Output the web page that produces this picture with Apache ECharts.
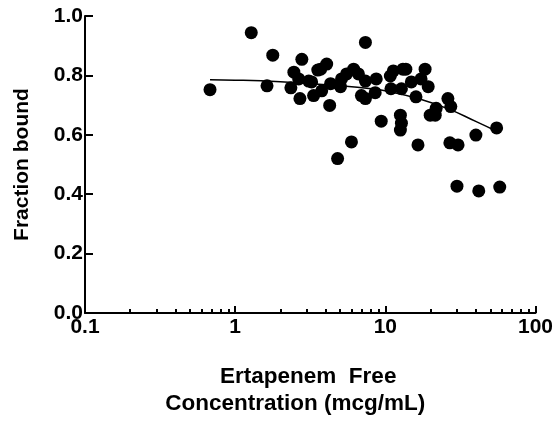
<!DOCTYPE html>
<html>
<head>
<meta charset="utf-8">
<script src="https://cdn.jsdelivr.net/npm/echarts@6/dist/echarts.min.js"></script>
<style>
  html, body { margin: 0; padding: 0; background: #fff; }
  #chart { width: 556px; height: 422px; }
</style>
</head>
<body>
<div id="chart"></div>
<script>
// free concentration (mcg/mL) and fraction bound
var concX = [0.68, 1.28, 1.78, 1.63, 2.78, 2.46, 2.35, 2.70, 3.33, 3.55,
             3.09, 2.65, 3.23, 3.71, 4.07, 3.77, 4.26, 4.32, 5.03, 5.11,
             5.52, 6.15, 6.62, 7.37, 7.37, 6.93, 7.37, 8.56, 8.70, 9.39,
             10.8, 11.3, 10.9, 12.6, 12.8, 12.6, 13.1, 13.7, 12.8, 14.9,
             16.0, 16.5, 18.4, 17.3, 19.3, 19.9, 21.5, 21.8, 26.1, 27.3,
             26.9, 30.5, 40.1, 55.1, 5.95, 4.81, 30.0, 41.9, 57.8];
var fracY = [0.752, 0.944, 0.868, 0.765, 0.854, 0.811, 0.758, 0.722, 0.732, 0.818,
             0.781, 0.788, 0.778, 0.821, 0.838, 0.748, 0.699, 0.772, 0.762, 0.788,
             0.805, 0.821, 0.805, 0.911, 0.781, 0.732, 0.722, 0.742, 0.788, 0.646,
             0.798, 0.815, 0.755, 0.666, 0.639, 0.616, 0.821, 0.821, 0.755, 0.778,
             0.728, 0.566, 0.821, 0.788, 0.762, 0.666, 0.666, 0.689, 0.722, 0.695,
             0.573, 0.566, 0.599, 0.623, 0.576, 0.520, 0.427, 0.411, 0.424];

// fitted curve
var fitX = [0.68, 1.0, 2.0, 3.0, 5.0, 7.5, 10.8, 16.5, 26, 40, 55];
var fitY = [0.785, 0.784, 0.779, 0.773, 0.765, 0.757, 0.745, 0.722, 0.688, 0.645, 0.612];

var xMinor = [0.2, 0.3, 0.4, 0.5, 0.6, 0.7, 0.8, 0.9,
              2, 3, 4, 5, 6, 7, 8, 9,
              20, 30, 40, 50, 60, 70, 80, 90];

var points = concX.map(function (x, i) { return [x, fracY[i]]; });
var curve = fitX.map(function (x, i) { return [x, fitY[i]]; });

var chart = echarts.init(document.getElementById('chart'));
var font = 'Liberation Sans, Arial, sans-serif';

var option = {
    backgroundColor: '#ffffff',
    animation: false,
    grid: { left: 85, right: 18, top: 16, bottom: 104 },
    xAxis: [{
        type: 'log',
        logBase: 10,
        min: 0.1,
        max: 100,
        name: '{a|Ertapenem  Free}\n{b|Concentration (mcg/mL)}',
        nameLocation: 'middle',
        nameGap: 50,
        nameTextStyle: {
            color: '#000', fontFamily: font, fontWeight: 'bold', fontSize: 22.5,
            lineHeight: 27, padding: [0, 30, 0, 0],
            rich: {
                a: { color: '#000', fontFamily: font, fontWeight: 'bold', fontSize: 22.5, lineHeight: 27, padding: [0, 0, 0, 26] },
                b: { color: '#000', fontFamily: font, fontWeight: 'bold', fontSize: 22.5, lineHeight: 27 }
            }
        },
        axisLine: { show: true, lineStyle: { color: '#000', width: 2 } },
        axisTick: { show: true, inside: true, length: 7, lineStyle: { color: '#000', width: 2 } },
        axisLabel: {
            color: '#000', fontFamily: font, fontWeight: 'bold', fontSize: 21, margin: 4,
            formatter: function (v) { return String(v); }
        },
        splitLine: { show: false }
    }, {
        type: 'log',
        logBase: 10,
        min: 0.1,
        max: 100,
        position: 'bottom',
        axisLine: { show: false },
        axisTick: {
            show: true, inside: true, length: 4, customValues: xMinor,
            lineStyle: { color: '#000', width: 2 }
        },
        axisLabel: { show: false },
        splitLine: { show: false }
    }],
    yAxis: {
        type: 'value',
        min: 0,
        max: 1,
        interval: 0.2,
        name: 'Fraction bound',
        nameLocation: 'middle',
        nameGap: 52,
        nameTextStyle: { color: '#000', fontFamily: font, fontWeight: 'bold', fontSize: 21 },
        axisLine: { show: true, lineStyle: { color: '#000', width: 2 } },
        axisTick: { show: true, inside: true, length: 8, lineStyle: { color: '#000', width: 2 } },
        axisLabel: {
            color: '#000', fontFamily: font, fontWeight: 'bold', fontSize: 21, margin: 2,
            formatter: function (v) { return v.toFixed(1); }
        },
        splitLine: { show: false }
    },
    series: [{
        name: 'data',
        type: 'scatter',
        symbol: 'circle',
        symbolSize: 13,
        itemStyle: { color: '#000', opacity: 1 },
        data: points
    }, {
        name: 'fit',
        type: 'line',
        showSymbol: false,
        smooth: true,
        lineStyle: { color: '#000', width: 1.5 },
        data: curve,
        z: 3
    }]
};
chart.setOption(option);
</script>
</body>
</html>
